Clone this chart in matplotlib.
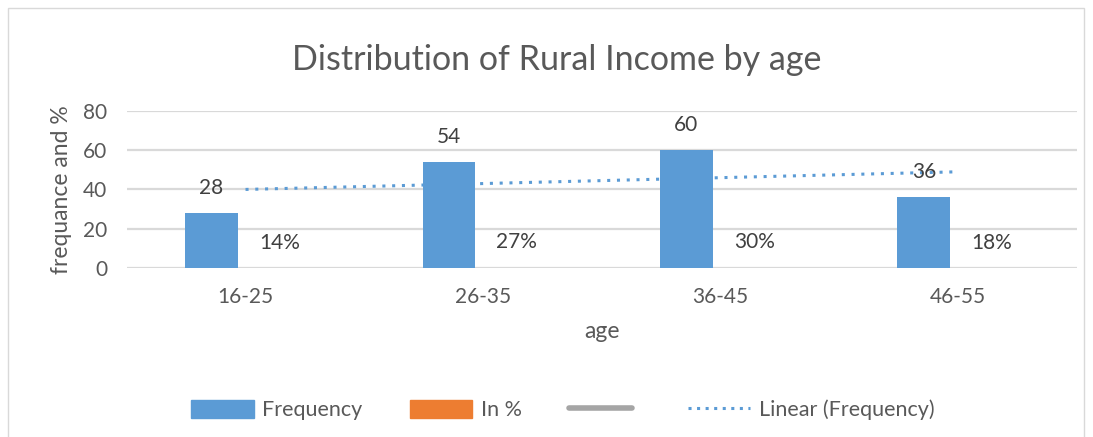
import numpy as np
import matplotlib.pyplot as plt
from matplotlib.lines import Line2D
from matplotlib.patches import Patch, Rectangle

plt.rcParams['font.family'] = ['Lato', 'DejaVu Sans']

# data
age_groups = ["16-25", "26-35", "36-45", "46-55"]
frequency = [28, 54, 60, 36]
in_percent = [0.14, 0.27, 0.30, 0.18]
percent_labels = ["14%", "27%", "30%", "18%"]

blue = '#5B9BD5'
orange = '#ED7D31'
grey = '#A5A5A5'
txt = '#595959'

fig = plt.figure(figsize=(10.93, 4.37), dpi=100)
fig.patches.append(Rectangle((0.007, -0.01), 0.985, 0.992, transform=fig.transFigure,
                             fill=False, edgecolor='#D9D9D9', linewidth=1))
ax = fig.add_axes([0.116, 0.387, 0.869, 0.359])

x = np.arange(len(age_groups))
w = 0.223
off = 0.143
b1 = ax.bar(x - off, frequency, w, color=blue, zorder=3)
# the % series is tiny on this scale, practically invisible
b2 = ax.bar(x + off, in_percent, w, color=orange, zorder=0.5, linewidth=0)

for xi, v in zip(x - off, frequency):
    ax.annotate(str(v), (xi, v), xytext=(0, 18), textcoords='offset points',
                ha='center', va='center', fontsize=15, color='#404040', zorder=5)
for xi, v, lab in zip(x + off, in_percent, percent_labels):
    ax.annotate(lab, (xi, v), xytext=(0, 18), textcoords='offset points',
                ha='center', va='center', fontsize=15, color='#404040', zorder=5)

# linear trendline over category positions
coef = np.polyfit(x + 1, frequency, 1)
trend = np.polyval(coef, x + 1)
ax.plot(x, trend, linestyle=(0, (1, 2.2)), color=blue, linewidth=2.2, zorder=4)

ax.set_xlim(-0.5, 3.5)
ax.set_ylim(0, 80)
ax.set_yticks(range(0, 81, 20))
ax.set_xticks(x)
ax.set_xticklabels(age_groups)
ax.grid(axis='y', color='#D9D9D9', linewidth=1.6, zorder=1)
for s in ax.spines.values():
    s.set_visible(False)
ax.tick_params(length=0, labelsize=15, labelcolor=txt)
ax.tick_params(axis='x', pad=14)
ax.tick_params(axis='y', pad=14)

ax.set_xlabel("age", fontsize=16.5, color=txt, labelpad=10)
ax.set_ylabel("frequance and %", fontsize=16.5, color=txt, labelpad=8)
fig.text(0.509, 0.862, "Distribution of Rural Income by age", ha='center', va='center',
         fontsize=24.5, color=txt)

handles = [Patch(color=blue), Patch(color=orange),
           Line2D([], [], color=grey, linewidth=4, solid_capstyle='round'),
           Line2D([], [], color=blue, linestyle=(0, (1, 1.8)), linewidth=2.2)]
labels = ["Frequency", "In %", "", "Linear (Frequency)"]
fig.legend(handles, labels, loc='center', bbox_to_anchor=(0.515, 0.062), ncol=4,
           frameon=False, fontsize=15.5, labelcolor=txt, handlelength=2.9,
           handleheight=0.9, columnspacing=2.2, handletextpad=0.4)

fig.savefig('out.png', dpi=100)
